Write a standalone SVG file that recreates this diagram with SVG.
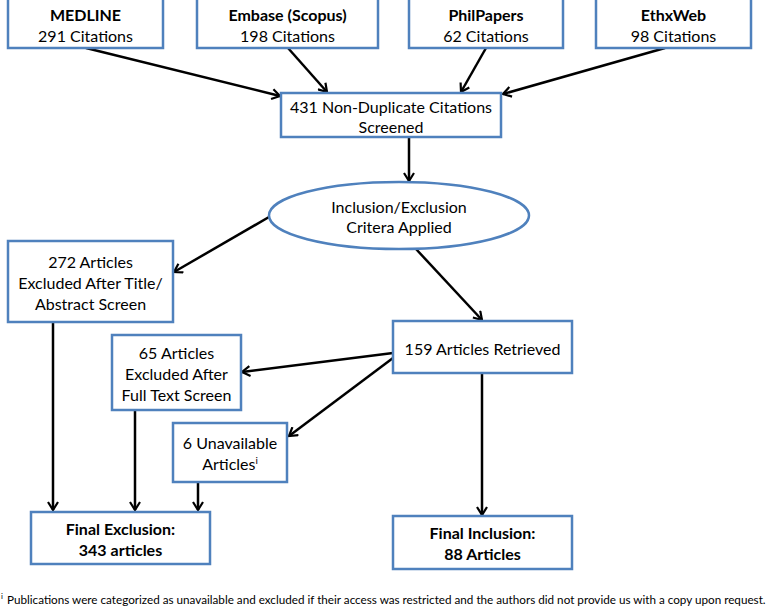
<svg xmlns="http://www.w3.org/2000/svg" width="778" height="610" viewBox="0 0 778 610">
<style>
.box{fill:#fff;stroke:#4F81BD;stroke-width:2.5}
.t{font-family:Lato,"Open Sans","Liberation Sans",sans-serif;font-size:16px;fill:#000;text-anchor:middle}
.b{font-weight:bold}
.c{stroke:#000;stroke-width:2.5;fill:none;marker-end:url(#ah)}
.fn{font-family:Lato,"Open Sans","Liberation Sans",sans-serif;fill:#000}
</style>
<defs>
<marker id="ah" viewBox="0 0 12 12" refX="10" refY="6" markerWidth="12" markerHeight="12" markerUnits="userSpaceOnUse" orient="auto">
<path d="M2,1 L10,6 L2,11" fill="none" stroke="#000" stroke-width="2.2"/>
</marker>
</defs>
<rect width="778" height="610" fill="#fff"/>
<g id="connectors">
<line class="c" x1="86" y1="48" x2="280" y2="96"/>
<line class="c" x1="288" y1="48" x2="327" y2="92"/>
<line class="c" x1="486" y1="48" x2="461" y2="92"/>
<line class="c" x1="665" y1="48" x2="503" y2="94"/>
<line class="c" x1="409" y1="137" x2="409" y2="181"/>
<line class="c" x1="269" y1="217" x2="174" y2="272"/>
<line class="c" x1="416" y1="249" x2="482" y2="320"/>
<line class="c" x1="393" y1="353" x2="242" y2="372"/>
<line class="c" x1="393" y1="358" x2="289" y2="436"/>
<line class="c" x1="482" y1="373" x2="482" y2="515"/>
<line class="c" x1="53" y1="322" x2="53" y2="510"/>
<line class="c" x1="135" y1="410" x2="135" y2="510"/>
<line class="c" x1="198" y1="482" x2="198" y2="510"/>
</g>
<g id="medline"><rect class="box" x="8" y="-2" width="155" height="50"/><text class="t b" x="85.5" y="21">MEDLINE</text><text class="t" x="85.5" y="42">291 Citations</text></g>
<g id="embase"><rect class="box" x="197" y="-2" width="181" height="50"/><text class="t b" x="287.5" y="21">Embase (Scopus)</text><text class="t" x="287.5" y="42">198 Citations</text></g>
<g id="philpapers"><rect class="box" x="409" y="-2" width="154" height="50"/><text class="t b" x="486" y="21">PhilPapers</text><text class="t" x="486" y="42">62 Citations</text></g>
<g id="ethxweb"><rect class="box" x="596" y="-2" width="155" height="50"/><text class="t b" x="673.5" y="21">EthxWeb</text><text class="t" x="673.5" y="42">98 Citations</text></g>
<g id="nondup"><rect class="box" x="281" y="93" width="220" height="44"/><text class="t" x="391" y="113">431 Non-Duplicate Citations</text><text class="t" x="391" y="133">Screened</text></g>
<g id="criteria"><ellipse cx="399" cy="215.5" rx="130" ry="33.5" fill="#fff" stroke="#4F81BD" stroke-width="2.5"/><text class="t" x="399" y="213">Inclusion/Exclusion</text><text class="t" x="399" y="233">Critera Applied</text></g>
<g id="excluded272"><rect class="box" x="8" y="241" width="165" height="81"/><text class="t" x="90.5" y="268">272 Articles</text><text class="t" x="90.5" y="289">Excluded After Title/</text><text class="t" x="90.5" y="310">Abstract Screen</text></g>
<g id="retrieved"><rect class="box" x="393" y="321" width="179" height="52"/><text class="t" x="482.5" y="355">159 Articles Retrieved</text></g>
<g id="excluded65"><rect class="box" x="112" y="335" width="129" height="75"/><text class="t" x="176.5" y="359">65 Articles</text><text class="t" x="176.5" y="380">Excluded After</text><text class="t" x="176.5" y="401">Full Text Screen</text></g>
<g id="unavailable"><rect class="box" x="173" y="423" width="114" height="59"/><text class="t" x="230" y="449">6 Unavailable</text><text class="t" x="230" y="470">Articles<tspan font-size="10" dy="-6">i</tspan></text></g>
<g id="finalexclusion"><rect class="box" x="31" y="512" width="179" height="52"/><text class="t b" x="120.5" y="535">Final Exclusion:</text><text class="t b" x="120.5" y="556">343 articles</text></g>
<g id="finalinclusion"><rect class="box" x="393" y="516" width="179" height="53"/><text class="t b" x="482.5" y="539">Final Inclusion:</text><text class="t b" x="482.5" y="560">88 Articles</text></g>
<g id="footnote"><text class="fn" font-size="8" x="1" y="599">i</text><text class="fn" font-size="11.7" x="7" y="604">Publications were categorized as unavailable and excluded if their access was restricted and the authors did not provide us with a copy upon request.</text></g>
</svg>
